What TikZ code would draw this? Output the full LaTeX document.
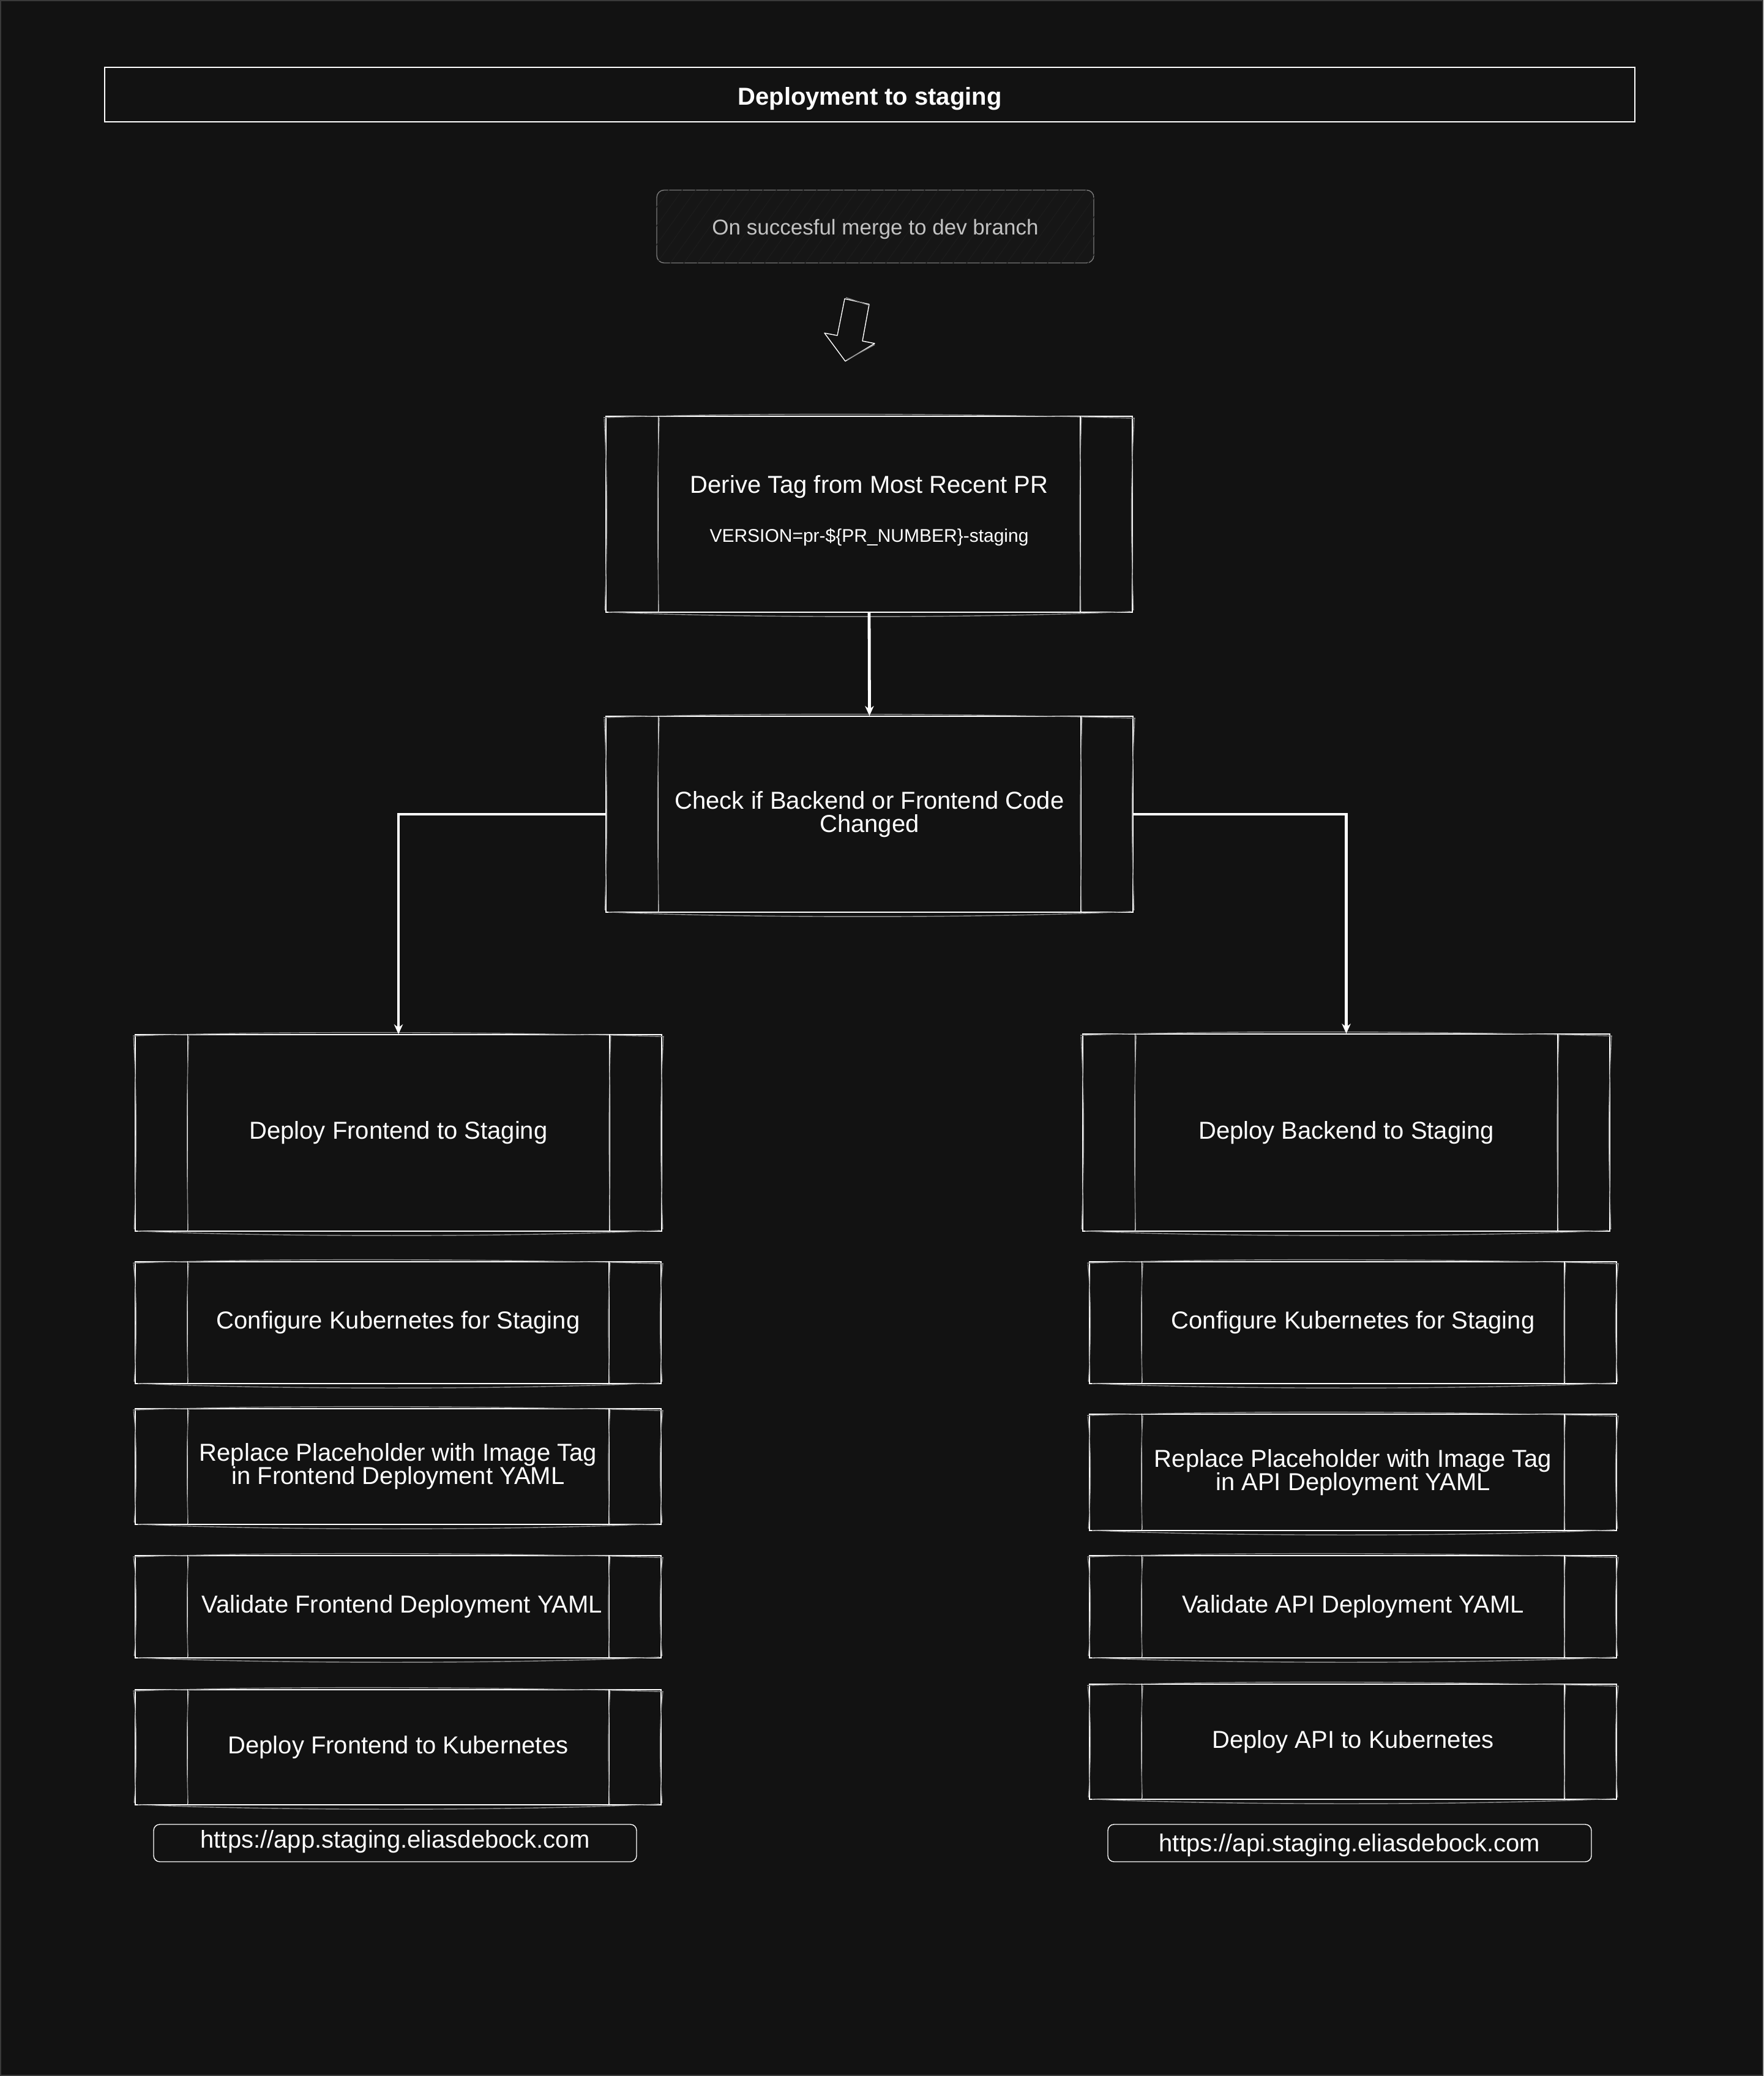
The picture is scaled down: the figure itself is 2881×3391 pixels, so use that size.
\documentclass[tikz,border=0pt]{standalone}
\usepackage{fontspec}
\setmainfont{Liberation Sans}
\usetikzlibrary{calc,arrows.meta}

\definecolor{bg}{HTML}{121212}
\definecolor{sketch}{HTML}{8C8C8C}
\definecolor{trigfill}{HTML}{161616}
\definecolor{trighatch}{HTML}{1C1C1C}
\definecolor{trigline}{HTML}{7A7A7A}
\definecolor{trigtext}{HTML}{C2C2C2}
\definecolor{edge}{HTML}{3A3A3A}

\tikzset{
  boxtext/.style={font=\fontsize{10}{9.5}\selectfont, text=white, align=center},
  proc/.style={boxtext, draw=white, line width=0.4pt, fill=bg, inner sep=0pt},
  sk/.style={draw=sketch, line width=0.35pt},
  innerline/.style={draw=white, line width=0.35pt},
  flow/.style={draw=white, line width=1.2pt, -{Stealth[length=4pt,width=3.6pt]}},
  urlbox/.style={boxtext, draw=white, line width=0.35pt, rounded corners=2.5pt, inner sep=0pt},
  titlebox/.style={draw=white, line width=0.4pt, inner sep=0pt,
    font=\fontsize{10}{12}\selectfont\bfseries, text=white},
  trigger/.style={draw=trigline, line width=0.35pt, rounded corners=3pt, inner sep=0pt},
  triggertext/.style={inner sep=0pt, font=\fontsize{8.75}{10}\selectfont, text=trigtext},
  hollow/.style={draw=white, line width=0.35pt, line join=round},
}

% shift text vertically while keeping its box size
\newcommand\nudge[2]{\raisebox{#1}[\height][\depth]{#2}}

% predefined-process box with hand-drawn double strokes
% #1 name, #2 centre, #3 width, #4 height, #5 text
\newcommand\pbox[5]{%
  \node[proc, minimum width=#3*0.25pt, minimum height=#4*0.25pt] (#1) at (#2) {#5};
  \draw[sk] ($(#1.north west)+(-3,3)$) .. controls ($(#1.north)+(-200,-6)$) and ($(#1.north)+(200,-3)$) .. ($(#1.north east)+(3,4)$);
  \draw[sk] ($(#1.south west)+(5,-1)$) .. controls ($(#1.south)+(-200,9)$) and ($(#1.south)+(200,9)$) .. ($(#1.south east)+(-4,-2)$);
  \draw[sk] ($(#1.north west)+(-2,5)$) .. controls ($(#1.west)+(4,-40)$) and ($(#1.west)+(3,40)$) .. ($(#1.south west)+(-1,-4)$);
  \draw[sk] ($(#1.north east)+(2,5)$) .. controls ($(#1.east)+(-4,-40)$) and ($(#1.east)+(-3,40)$) .. ($(#1.south east)+(1,-4)$);
  \draw[innerline] ($(#1.north west)+(86,0)$) -- ($(#1.south west)+(86,0)$);
  \draw[innerline] ($(#1.north east)+(-86,0)$) -- ($(#1.south east)+(-86,0)$);
  \draw[sk] ($(#1.north west)+(88,3)$) .. controls ($(#1.west)+(84,-30)$) and ($(#1.west)+(85,30)$) .. ($(#1.south west)+(87,-3)$);
  \draw[sk] ($(#1.north east)+(-84,3)$) .. controls ($(#1.east)+(-88,-30)$) and ($(#1.east)+(-87,30)$) .. ($(#1.south east)+(-85,-3)$);
}

\begin{document}
\begin{tikzpicture}[x=0.25pt,y=-0.25pt]
  % canvas
  \fill[bg] (0,0) rectangle (2881,3391);
  \useasboundingbox (0,0) rectangle (2881,3391);
  \draw[edge, line width=0.5pt] (1,1) rectangle (2880,3390);

  % heading
  \node[titlebox, minimum width=2500*0.25pt, minimum height=89*0.25pt] (title) at (1421,154.5) {\nudge{-1.6pt}{Deployment to staging}};

  % trigger
  \node[trigger, fill=trigfill, minimum width=714*0.25pt, minimum height=119*0.25pt] (trig) at (1430,370) {};
  \begin{scope}
    \clip[rounded corners=3pt] (trig.south west) rectangle (trig.north east);
    \foreach \k in {0,...,40}
      \draw[trighatch, line width=0.3pt] (1000+\k*22,440) -- (1100+\k*22,300);
  \end{scope}
  \node[triggertext] (trigtxt) at (trig.center) {\nudge{-1pt}{On succesful merge to dev branch}};

  % hollow arrow
  \draw[hollow] (1380,488) -- (1420,497) -- (1409,557) -- (1429,561) -- (1381,590)
    -- (1347,544) -- (1368,548) -- cycle;
  \draw[sk] (1382,486) -- (1421,499);
  \draw[sk] (1429,563) -- (1383,588);

  % main chain
  \pbox{derive}{1420,840}{860}{320}{\nudge{0.8pt}{\begin{tabular}{@{}c@{}}Derive Tag from Most Recent PR\\[10.5pt]{\fontsize{7.5}{9}\selectfont VERSION=pr-\$\{PR\_NUMBER\}-staging}\end{tabular}}}
  \pbox{check}{1420.5,1330}{861}{320}{Check if Backend or Frontend Code\\Changed}

  % frontend column
  \pbox{dfe}{651,1850.5}{860}{321}{Deploy Frontend to Staging}
  \pbox{cfgL}{650.5,2160.5}{859}{199}{Configure Kubernetes for Staging}
  \pbox{repL}{650.5,2395.5}{859}{189}{Replace Placeholder with Image Tag\\in Frontend Deployment YAML}
  \pbox{valL}{650.5,2624.5}{859}{167}{\hspace*{3.2pt}Validate Frontend Deployment YAML}
  \pbox{depL}{650.5,2854}{859}{188}{Deploy Frontend to Kubernetes}
  \node[urlbox, minimum width=789*0.25pt, minimum height=61*0.25pt] (urlL) at (645.5,3010.5) {\nudge{0.5pt}{https://app.staging.eliasdebock.com}};

  % backend column
  \pbox{dbe}{2199.5,1850}{861}{322}{Deploy Backend to Staging}
  \pbox{cfgR}{2210.5,2160.5}{861}{199}{Configure Kubernetes for Staging}
  \pbox{repR}{2210.5,2405}{861}{190}{Replace Placeholder with Image Tag\\in API Deployment YAML}
  \pbox{valR}{2210.5,2624.5}{861}{167}{Validate API Deployment YAML}
  \pbox{depR}{2210.5,2845}{861}{188}{Deploy API to Kubernetes}
  \node[urlbox, minimum width=790*0.25pt, minimum height=61*0.25pt] (urlR) at (2205,3010.5) {\nudge{-1pt}{https://api.staging.eliasdebock.com}};

  % connectors
  \draw[flow] (derive.south) -- (check.north);
  \draw[flow] (check.west) -| (dfe.north);
  \draw[flow] (check.east) -| (dbe.north);
\end{tikzpicture}
\end{document}
